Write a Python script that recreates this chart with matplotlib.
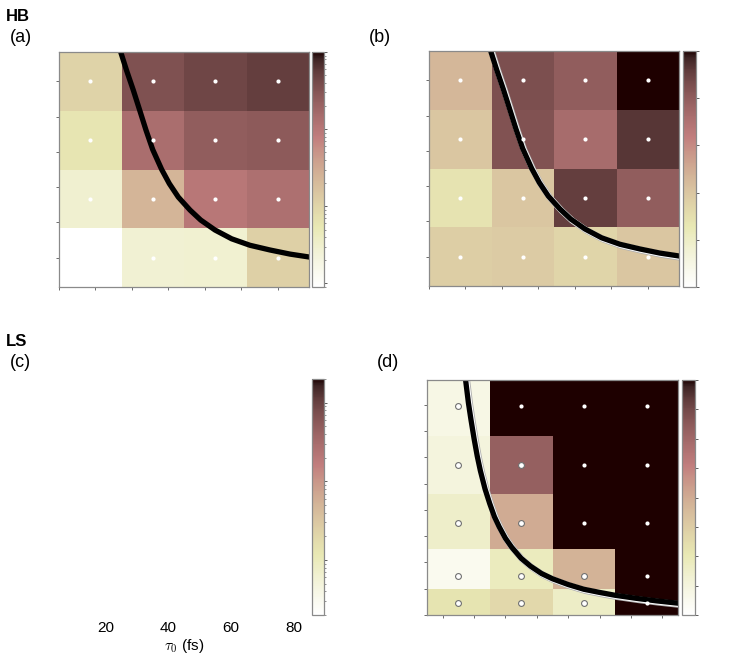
import numpy as np
import matplotlib.pyplot as plt
import matplotlib.colors as mcolors
import matplotlib.patheffects as pe
import matplotlib.cm as cm

plt.rcParams['font.family'] = ['Liberation Sans', 'DejaVu Sans']
plt.rcParams['mathtext.fontset'] = 'cm'

# HB runs: pulse duration (columns) x second parameter (rows, bottom to top)
tau_hb = [15, 35, 55, 75]
y_hb = [1, 2, 3, 4]
hb_a = [[np.nan, 2.8, 2.9, 11.2],
        [3.0, 24.0, 99.0, 131.0],
        [6.0, 140.0, 246.0, 264.0],
        [10.5, 337.0, 447.0, 532.0]]
hb_b = [[1.85, 1.9, 1.7, 2.0],
        [1.4, 2.0, 4.55, 4.0],
        [2.0, 4.2, 3.65, 4.65],
        [2.3, 4.27, 4.0, 5.0]]
hb_curve_x = [24.74, 26.66, 28.78, 30.70, 32.84, 34.98, 37.86, 40.30, 43.18,
              46.92, 50.34, 54.92, 60.26, 66.12, 72.52, 78.92, 85.10]
hb_curve_y = [4.50, 4.18, 3.85, 3.53, 3.17, 2.84, 2.50, 2.26, 2.03,
              1.81, 1.64, 1.47, 1.32, 1.21, 1.13, 1.06, 1.01]

# LS runs
tau_ls = [15, 35, 55, 75]
y_ls = [0.45, 1.5, 3.5, 5.7, 7.95]
ls_d = [[2.2, 2.6, 1.6, 12.0],
        [0.5, 1.8, 3.8, 12.0],
        [1.5, 4.0, 12.0, 12.0],
        [1.0, 6.3, 12.0, 12.0],
        [0.8, 12.0, 12.0, 12.0]]
ls_curve_x = [17.3, 18.2, 19.0, 20.0, 21.0, 22.0, 23.5, 25.0, 26.5, 28.0, 30.0, 32.0,
              35.0, 38.0, 41.5, 45.0, 50.0, 55.0, 60.0, 65.0, 72.0, 78.0, 85.0]
ls_curve_y = [8.95, 8.08, 7.45, 6.72, 6.06, 5.50, 4.80, 4.24, 3.74, 3.36, 2.92, 2.58,
              2.16, 1.86, 1.58, 1.38, 1.16, 0.98, 0.86, 0.75, 0.63, 0.54, 0.45]

W, H = 747, 658
fig = plt.figure(figsize=(W / 100, H / 100), dpi=100)


def box(l, t, r, b):
    return [l / W, 1 - b / H, (r - l) / W, (b - t) / H]


def style_ax(ax):
    for s in ax.spines.values():
        s.set_color('#8a8a8a')
        s.set_linewidth(0.9)
    ax.tick_params(direction='out', length=2.5, width=0.6, color='#555555',
                   labelbottom=False, labelleft=False)


def style_cb(cb):
    cb.outline.set_edgecolor('#8a8a8a')
    cb.outline.set_linewidth(0.9)
    cb.ax.tick_params(which='major', length=2.5, width=0.6, color='#444444', labelright=False)
    cb.ax.tick_params(which='minor', length=1.5, width=0.5, color='#666666')


def grid(ax, x, y, z, norm):
    z = np.ma.masked_invalid(np.array(z))
    return ax.pcolormesh(x, y, z, cmap='pink_r', norm=norm, shading='nearest',
                         edgecolors='none', linewidth=0, antialiased=False)


plain = [pe.Normal()]
outlined = [pe.Stroke(offset=(1.1, -1.1), linewidth=4.6, foreground='#b0b0b0'),
            pe.Stroke(offset=(0.6, -0.6), linewidth=4.2, foreground='white'),
            pe.Normal()]

# (a)
ax = fig.add_axes(box(59, 52, 309, 287))
norm_a = mcolors.LogNorm(vmin=0.9, vmax=1000)
m = grid(ax, tau_hb, y_hb, hb_a, norm_a)
ax.plot(hb_curve_x, hb_curve_y, color='black', lw=3.8, path_effects=plain)
X, Y = np.meshgrid(tau_hb, y_hb)
ok = ~np.isnan(np.array(hb_a))
ax.plot(X[ok], Y[ok], 'o', ms=3, color='white', mec='none')
ax.set_xlim(5, 85)
ax.set_ylim(0.5, 4.5)
ax.set_xticks(np.linspace(5, 75, 7))
ax.set_yticks(np.linspace(1, 4, 6))
style_ax(ax)
cax = fig.add_axes(box(312, 52, 324.5, 287))
style_cb(fig.colorbar(m, cax=cax))

# (b)
ax = fig.add_axes(box(429, 51, 679, 286))
norm_b = mcolors.Normalize(vmin=0, vmax=5)
m = grid(ax, tau_hb, y_hb, hb_b, norm_b)
ax.plot(hb_curve_x, hb_curve_y, color='black', lw=3.8, path_effects=outlined)
ax.plot(X.ravel(), Y.ravel(), 'o', ms=3, color='white', mec='none')
ax.set_xlim(5, 85)
ax.set_ylim(0.5, 4.5)
ax.set_xticks(np.linspace(5, 75, 7))
ax.set_yticks(np.linspace(1, 4, 6))
style_ax(ax)
cax = fig.add_axes(box(683, 51, 695.5, 287))
style_cb(fig.colorbar(m, cax=cax, ticks=np.arange(0, 6)))

# (c) empty panel with colour bar
ax = fig.add_axes(box(59, 379, 309, 615))
ax.set_xlim(5, 85)
ax.set_xticks([20, 40, 60, 80])
ax.set_yticks([])
for s in ax.spines.values():
    s.set_visible(False)
ax.tick_params(length=0, pad=4, labelsize=11)
ax.set_xlabel(r'$\tau_0$ (fs)', fontsize=11, labelpad=2)
cax = fig.add_axes(box(312, 379, 324.5, 615))
sm = cm.ScalarMappable(norm=mcolors.LogNorm(vmin=2e-3, vmax=2), cmap='pink_r')
style_cb(fig.colorbar(sm, cax=cax))

# (d)
ax = fig.add_axes(box(427, 380, 678, 615))
norm_d = mcolors.Normalize(vmin=0, vmax=8)
m = grid(ax, tau_ls, y_ls, ls_d, norm_d)
ax.plot(ls_curve_x, ls_curve_y, color='black', lw=3.8, path_effects=outlined)
Xd, Yd = np.meshgrid(tau_ls, y_ls)
Zd = np.array(ls_d)
below = Zd < norm_d.vmax
ax.plot(Xd[below], Yd[below], 'o', ms=4.2, mfc='white', mec='#707070', mew=0.8)
ax.plot(Xd[~below], Yd[~below], 'o', ms=3, color='white', mec='none')
ax.set_xlim(5, 85)
ax.set_ylim(0, 8.95)
ax.set_xticks(np.arange(10, 81, 10))
ax.set_yticks(np.arange(0, 9))
style_ax(ax)
cax = fig.add_axes(box(682, 380, 694.5, 615))
style_cb(fig.colorbar(m, cax=cax, ticks=np.arange(0, 9)))

# panel labels
fig.text(6 / W, 1 - 21 / H, 'HB', fontsize=12, fontweight='bold')
fig.text(10 / W, 1 - 42 / H, '(a)', fontsize=13)
fig.text(369 / W, 1 - 42 / H, '(b)', fontsize=13)
fig.text(6 / W, 1 - 346 / H, 'LS', fontsize=12, fontweight='bold')
fig.text(10 / W, 1 - 367 / H, '(c)', fontsize=13)
fig.text(377 / W, 1 - 367 / H, '(d)', fontsize=13)

fig.savefig('out.png', dpi=100)
